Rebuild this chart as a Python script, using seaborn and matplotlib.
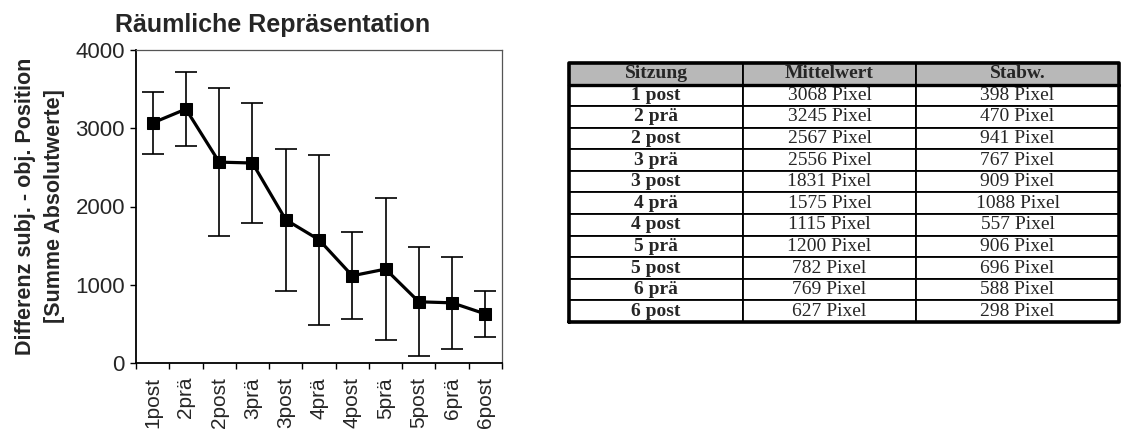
import numpy as np
import matplotlib
matplotlib.use("Agg")
import matplotlib.pyplot as plt
import seaborn as sns

# =============================
# DATA
# =============================

sessions = ["1post", "2prä", "2post", "3prä", "3post", "4prä",
            "4post", "5prä", "5post", "6prä", "6post"]
table_sessions = ["1 post", "2 prä", "2 post", "3 prä", "3 post", "4 prä",
                  "4 post", "5 prä", "5 post", "6 prä", "6 post"]
means = [3068, 3245, 2567, 2556, 1831, 1575, 1115, 1200, 782, 769, 627]
sds = [398, 470, 941, 767, 909, 1088, 557, 906, 696, 588, 298]
y_ticks = [0, 1000, 2000, 3000, 4000]
header = ["Sitzung", "Mittelwert", "Stabw."]

# =============================
# STYLE
# =============================

sns.set_theme(style="ticks")
plt.rcParams['font.family'] = ['Liberation Sans', 'DejaVu Sans']

W, H = 1121, 432
fig = plt.figure(figsize=(W / 100, H / 100), dpi=100)
fig.patch.set_facecolor("white")

# =============================
# LINE CHART
# =============================

ax = fig.add_axes([136 / W, 1 - 363 / H, 366 / W, 313 / H])
x = np.arange(len(sessions))

ax.errorbar(x, means, yerr=sds, fmt="none", ecolor="black",
            elinewidth=1.2, capsize=8, capthick=1.2, zorder=2)
sns.lineplot(x=x, y=means, ax=ax, color="black", linewidth=2.3,
             marker="s", markersize=8, markeredgecolor="black", zorder=3)

ax.set_xlim(-0.5, len(sessions) - 0.5)
ax.set_ylim(0, 4000)
ax.set_yticks(y_ticks)
ax.set_yticklabels([str(v) for v in y_ticks], fontsize=16)
ax.set_xticks(x)
ax.set_xticklabels(sessions, rotation=90, fontsize=15)
ax.set_xticks(np.arange(-0.5, len(sessions), 1.0), minor=True)
ax.tick_params(axis="x", which="major", length=0, pad=10)
ax.tick_params(axis="x", which="minor", length=4, width=1, color="black",
               direction="out")
ax.tick_params(axis="y", length=4, width=1, color="black", direction="out",
               pad=4)
ax.grid(False)

for side in ["left", "bottom"]:
    ax.spines[side].set_color("black")
    ax.spines[side].set_linewidth(1.3)
for side in ["top", "right"]:
    ax.spines[side].set_visible(True)
    ax.spines[side].set_color("#555555")
    ax.spines[side].set_linewidth(0.9)

ax.set_xlabel("")
ax.set_ylabel("Differenz subj. - obj. Position\n[Summe Absolutwerte]",
              fontsize=15.5, fontweight="bold", linespacing=1.45)
ax.yaxis.label.set_va("center")
ax.yaxis.set_label_coords((40 - 136) / 366, 0.5)

fig.text(273 / W, 1 - 32 / H, "Räumliche Repräsentation", ha="center",
         va="baseline", fontsize=18, fontweight="bold")

# =============================
# TABLE
# =============================

tax = fig.add_axes([569 / W, 1 - 322 / H, 550 / W, 259 / H])
tax.axis("off")

cell_text = [[s, f"{m} Pixel", f"{d} Pixel"]
             for s, m, d in zip(table_sessions, means, sds)]
col_w = [174 / 550, 173 / 550, 203 / 550]

tbl = tax.table(cellText=cell_text, colLabels=header, colWidths=col_w,
                cellLoc="center", bbox=[0, 0, 1, 1])
tbl.auto_set_font_size(False)

for (r, c), cell in tbl.get_celld().items():
    cell.set_edgecolor("black")
    cell.set_linewidth(1.3)
    txt = cell.get_text()
    txt.set_fontfamily(["Liberation Serif", "DejaVu Serif"])
    txt.set_fontsize(14)
    if r == 0:
        cell.set_facecolor("#b8b8b8")
        txt.set_fontweight("bold")
    elif c == 0:
        txt.set_fontweight("bold")

# thicker outer frame and header rule
n_rows = len(table_sessions) + 1
tax.plot([0, 1, 1, 0, 0], [0, 0, 1, 1, 0], color="black", linewidth=2.6,
         transform=tax.transAxes, clip_on=False, zorder=5)
tax.plot([0, 1], [1 - 1 / n_rows] * 2, color="black", linewidth=2.4,
         transform=tax.transAxes, clip_on=False, zorder=5)

plt.savefig("out.png", dpi=100)
plt.close()
